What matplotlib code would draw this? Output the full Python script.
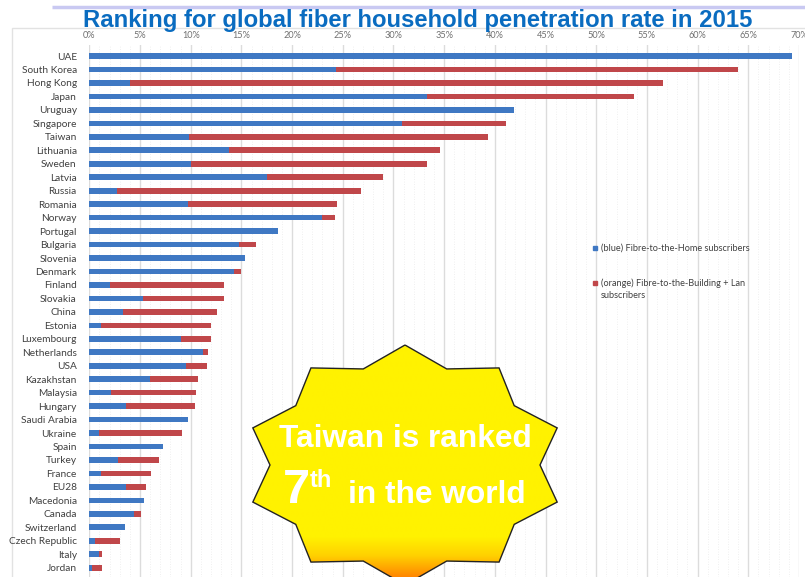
import numpy as np
import matplotlib
matplotlib.use("Agg")
import matplotlib.pyplot as plt
from matplotlib.patches import Polygon, Rectangle
from matplotlib.colors import LinearSegmentedColormap

countries = [
    "UAE", "South Korea", "Hong Kong", "Japan", "Uruguay", "Singapore", "Taiwan",
    "Lithuania", "Sweden", "Latvia", "Russia", "Romania", "Norway", "Portugal",
    "Bulgaria", "Slovenia", "Denmark", "Finland", "Slovakia", "China", "Estonia",
    "Luxembourg", "Netherlands", "USA", "Kazakhstan", "Malaysia", "Hungary",
    "Saudi Arabia", "Ukraine", "Spain", "Turkey", "France", "EU28", "Macedonia",
    "Canada", "Switzerland", "Czech Republic", "Italy", "Jordan",
]
ftth = [69.3, 24.3, 4.0, 33.3, 41.9, 30.8, 9.8, 13.8, 10.0, 17.5, 2.7, 9.7, 23.0,
        18.6, 14.8, 15.4, 14.3, 2.0, 5.3, 3.3, 1.2, 9.0, 11.2, 9.5, 6.0, 2.1, 3.6,
        9.7, 1.0, 7.3, 2.8, 1.2, 3.6, 5.4, 4.4, 3.5, 0.6, 1.0, 0.3]
fttb = [0.0, 39.7, 52.6, 20.4, 0.0, 10.3, 29.5, 20.8, 23.3, 11.5, 24.1, 14.7, 1.2,
        0.0, 1.6, 0.0, 0.7, 11.3, 8.0, 9.3, 10.8, 3.0, 0.5, 2.1, 4.7, 8.4, 6.8,
        0.0, 8.1, 0.0, 4.1, 4.9, 2.0, 0.0, 0.7, 0.0, 2.4, 0.3, 1.0]
x_ticks = list(range(0, 75, 5))
x_ticklabels = [f"{t}%" for t in x_ticks]

BLUE = "#3F78C3"
RED = "#C0474A"
W, H = 805, 577

fig = plt.figure(figsize=(W / 100, H / 100), dpi=100)

# chart frame behind the plot
bg = fig.add_axes([0, 0, 1, 1], zorder=0)
bg.set_xlim(0, W); bg.set_ylim(H, 0); bg.axis("off")
bg.add_patch(Rectangle((12, 28), W, H, facecolor="white", edgecolor="#E2E2E2", lw=1))
bg.plot([52, W], [7, 7], color="#C9C9F2", lw=2.5, solid_capstyle="butt")

# bars
left, right, top, bottom = 89.3, 799, 45, 577
ax = fig.add_axes([left / W, 1 - bottom / H, (right - left) / W, (bottom - top) / H], zorder=1)
ax.patch.set_alpha(0)
y = np.arange(len(countries))
ax.barh(y, ftth, height=0.42, color=BLUE, zorder=3)
ax.barh(y, fttb, left=ftth, height=0.42, color=RED, zorder=3)
ax.set_xlim(0, 70)
ax.set_ylim(38.69, -0.82)
ax.set_yticks(y)
ax.set_yticklabels(countries, family="Lato", fontsize=7.3, color="#404040")
ax.set_xticks(x_ticks)
ax.set_xticklabels(x_ticklabels, family="Lato", fontsize=6.6, color="#707070")
ax.xaxis.tick_top()
ax.set_xticks(np.arange(0, 70, 1), minor=True)
ax.tick_params(which="both", length=0)
ax.tick_params(axis="x", pad=3.5)
ax.tick_params(axis="y", pad=9)
ax.grid(axis="x", which="major", color="#DCDCDC", lw=1.0, zorder=1)
ax.grid(axis="x", which="minor", color="#EBEBEB", lw=0.6, ls=(0, (1, 2)), zorder=0)
for s in ax.spines.values():
    s.set_visible(False)

# title and legend
ov = fig.add_axes([0, 0, 1, 1], zorder=2)
ov.set_xlim(0, W); ov.set_ylim(H, 0); ov.axis("off")
ov.text(418, 27, "Ranking for global fiber household penetration rate in 2015",
        ha="center", va="baseline", fontsize=17.2, fontweight="bold",
        color="#0A6CC0", family="Liberation Sans")
ov.add_patch(Rectangle((592.5, 245.5), 4.5, 4.5, color=BLUE))
ov.add_patch(Rectangle((592.5, 280.5), 4.5, 4.5, color=RED))
ov.text(601, 248, "(blue) Fibre-to-the-Home subscribers", family="Lato",
        fontsize=6.6, color="#404040", va="center")
ov.text(601, 283, "(orange) Fibre-to-the-Building + Lan", family="Lato",
        fontsize=6.6, color="#404040", va="center")
ov.text(601, 296, "subscribers", family="Lato", fontsize=6.6, color="#404040", va="center")

# ten-point star callout
cx, cy = 405, 465
ang = np.deg2rad(90 + np.arange(20) * 18)
rx = np.where(np.arange(20) % 2 == 0, 160, 135)
ry = np.where(np.arange(20) % 2 == 0, 120, 101)
pts = np.column_stack([cx + rx * np.cos(ang), cy - ry * np.sin(ang)])
ov.add_patch(Polygon(pts, closed=True, facecolor="none", edgecolor="#222222", lw=1.0, zorder=5))
grad = LinearSegmentedColormap.from_list(
    "sun", [(0, "#FFF200"), (0.80, "#FFF200"), (0.88, "#FFD000"), (1.0, "#FF6A00")])
yy = np.linspace(0, 1, 256)[:, None] * np.ones((1, 2))
img = ov.imshow(yy, cmap=grad, extent=(cx - 160, cx + 160, cy + 120, cy - 120),
                aspect="auto", zorder=4, interpolation="bilinear")
img.set_clip_path(Polygon(pts, closed=True, transform=ov.transData))
ov.set_xlim(0, W); ov.set_ylim(H, 0)

ov.text(405, 447, "Taiwan is ranked", ha="center", va="baseline", color="white",
        fontsize=22.8, fontweight="bold", family="Liberation Sans", zorder=6)
ov.text(283, 503, "7", ha="left", va="baseline", color="white",
        fontsize=35, fontweight="bold", family="Liberation Sans", zorder=6)
ov.text(310, 487, "th", ha="left", va="baseline", color="white",
        fontsize=17, fontweight="bold", family="Liberation Sans", zorder=6)
ov.text(348, 503, "in the world", ha="left", va="baseline", color="white",
        fontsize=22.8, fontweight="bold", family="Liberation Sans", zorder=6)

fig.savefig("out.png", dpi=100)
